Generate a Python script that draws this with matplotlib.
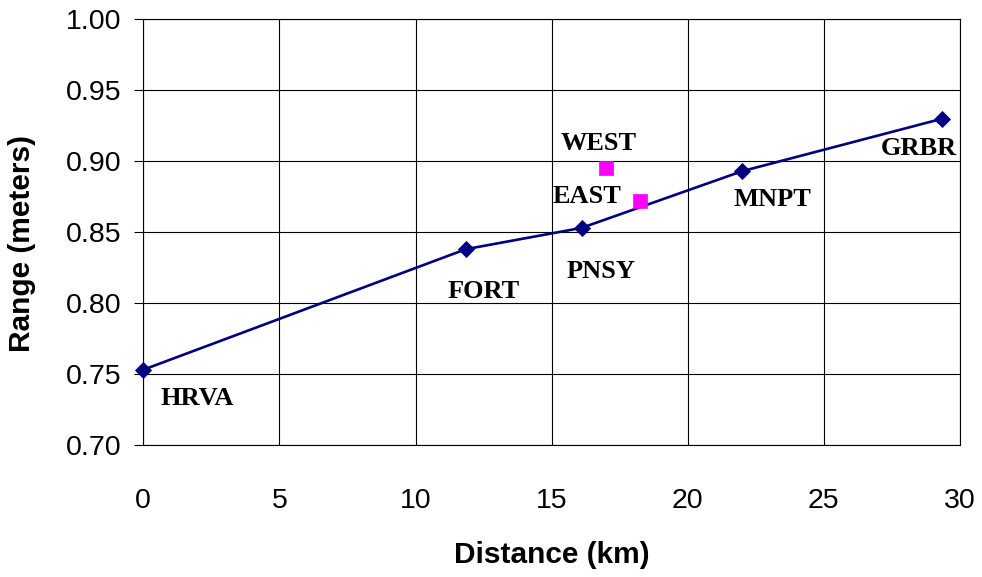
import matplotlib
matplotlib.use("Agg")
import matplotlib.pyplot as plt

# Tide range along the estuary
stations = ["HRVA", "FORT", "PNSY", "MNPT", "GRBR"]
distance_km = [0.0, 11.85, 16.1, 22.0, 29.35]
range_m = [0.753, 0.838, 0.853, 0.893, 0.930]

extra_stations = ["WEST", "EAST"]
extra_distance_km = [17.0, 18.25]
extra_range_m = [0.895, 0.872]

x_ticks = [0, 5, 10, 15, 20, 25, 30]
y_ticks = [0.70, 0.75, 0.80, 0.85, 0.90, 0.95, 1.00]

# label offsets (points) from each marker, text baseline
label_offsets = {
    "HRVA": (38.7, -25.1),
    "FORT": (13.0, -34.8),
    "PNSY": (14.0, -36.0),
    "MNPT": (21.8, -25.2),
    "GRBR": (-16.6, -26.3),
    "WEST": (-5.4, 13.4),
    "EAST": (-38.3, -1.6),
}

fig = plt.figure(figsize=(9.82, 5.77), dpi=100)
ax = fig.add_axes([0.1459, 0.2289, 0.8317, 0.7375])

sans = "Liberation Sans"
serif = "Liberation Serif"

ax.plot(distance_km, range_m, color="#000080", lw=1.9, marker="D",
        markersize=8.4, markeredgewidth=0.6, markeredgecolor="#000080",
        markerfacecolor="#000080", zorder=3, clip_on=False)
ax.plot(extra_distance_km, extra_range_m, linestyle="none", marker="s",
        markersize=10.4, markerfacecolor="#FF00FF", markeredgecolor="#FF00FF",
        markeredgewidth=0.5, zorder=3)

for name, xv, yv in zip(stations + extra_stations,
                        distance_km + extra_distance_km,
                        range_m + extra_range_m):
    dx, dy = label_offsets[name]
    ax.annotate(name, (xv, yv), xytext=(dx, dy), textcoords="offset points",
                ha="center", va="baseline", fontsize=19,
                fontfamily=serif, fontweight="bold", color="black", zorder=4)

ax.set_xlim(0, 30)
ax.set_ylim(0.70, 1.00)
ax.set_xticks(x_ticks)
ax.set_yticks(y_ticks)
ax.set_xticklabels([str(v) for v in x_ticks], fontfamily=sans, fontsize=20.5)
ax.set_yticklabels([f"{v:.2f}" for v in y_ticks], fontfamily=sans, fontsize=20.5)
ax.tick_params(axis="x", length=0, pad=31)
ax.tick_params(axis="y", length=6.5, width=0.8, pad=9, color="black")

ax.grid(True, color="black", lw=0.8)
ax.set_axisbelow(True)
for sp in ax.spines.values():
    sp.set_color("black")
    sp.set_linewidth(0.8)

fig.text(0.5616, 1 - 555 / 577, "Distance (km)", ha="center", va="center",
         fontfamily=sans, fontweight="bold", fontsize=21.5)
fig.text(22 / 982, 1 - 243 / 577, "Range (meters)", ha="center", va="center",
         rotation=90, fontfamily=sans, fontweight="bold", fontsize=21.5)

fig.savefig("out.png", dpi=100)
